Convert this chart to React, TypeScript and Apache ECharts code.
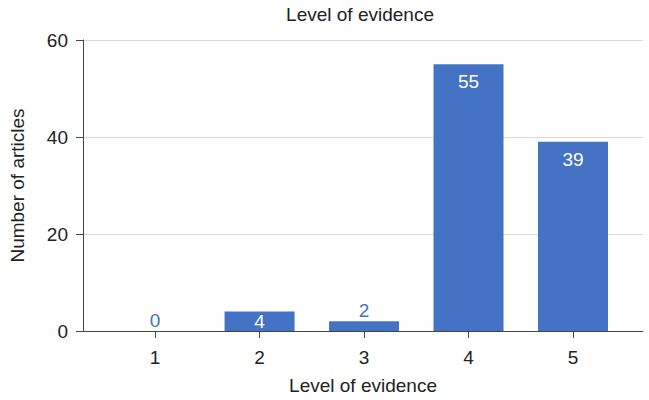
import React, { useEffect, useRef } from "react";
import * as echarts from "echarts";

const categories = [1, 2, 3, 4, 5];
const articleCounts = [0, 4, 2, 55, 39];
const labelInside = [false, true, false, true, true];

const BLUE = "#4472C4";
const FONT = "Liberation Sans, Arial, Helvetica, sans-serif";
const FS = 19;

export default function App() {
  const ref = useRef<HTMLDivElement>(null);
  useEffect(() => {
    if (!ref.current) return;
    const chart = echarts.init(ref.current, null, { renderer: "svg" });
    const data = categories.map((c, i) => {
      const inside = labelInside[i];
      return {
        value: [c, articleCounts[i]],
        label: inside
          ? {
              show: true,
              position: articleCounts[i] < 10 ? "inside" : "insideTop",
              distance: 8,
              color: "#ffffff",
              fontSize: FS,
              fontFamily: FONT,
            }
          : {
              show: true,
              position: "top",
              distance: 1,
              color: BLUE,
              fontSize: FS,
              fontFamily: FONT,
            },
      };
    });
    chart.setOption({
      animation: false,
      textStyle: { fontFamily: FONT },
      title: {
        text: "Level of evidence",
        left: 355,
        top: 0,
        textAlign: "center",
        textStyle: { fontSize: FS, fontWeight: "normal", color: "#222", fontFamily: FONT },
      },
      grid: { left: 66, right: 6, top: 40, bottom: 65, containLabel: false },
      xAxis: {
        type: "value",
        min: 0.31,
        max: 5.67,
        name: "Level of evidence",
        nameLocation: "middle",
        nameGap: 45,
        nameTextStyle: { fontSize: FS, color: "#222", fontFamily: FONT },
        axisLine: { show: true, lineStyle: { color: "#444", width: 1 } },
        axisTick: { show: true, length: 7, customValues: categories, lineStyle: { color: "#444" } },
        axisLabel: { customValues: categories, fontSize: FS, color: "#222", margin: 17, fontFamily: FONT },
        splitLine: { show: false },
      },
      yAxis: {
        type: "value",
        min: 0,
        max: 60,
        interval: 20,
        name: "Number of articles",
        nameLocation: "middle",
        nameGap: 56,
        nameTextStyle: { fontSize: FS, color: "#222", fontFamily: FONT },
        axisLine: { show: true, lineStyle: { color: "#444", width: 1 } },
        axisTick: { show: true, length: 7, lineStyle: { color: "#444" } },
        axisLabel: {
          fontSize: FS,
          color: "#222",
          margin: 15,
          fontFamily: FONT,
        },
        splitLine: { show: true, lineStyle: { color: "#d9d9d9", width: 1 } },
      },
      series: [
        {
          type: "bar",
          barWidth: 70,
          data,
          itemStyle: { color: BLUE },
        },
      ],
    });
    return () => chart.dispose();
  }, []);
  return (
    <div
      ref={ref}
      style={{ width: 649, height: 400, position: "absolute", left: 0, top: 0 }}
    />
  );
}
